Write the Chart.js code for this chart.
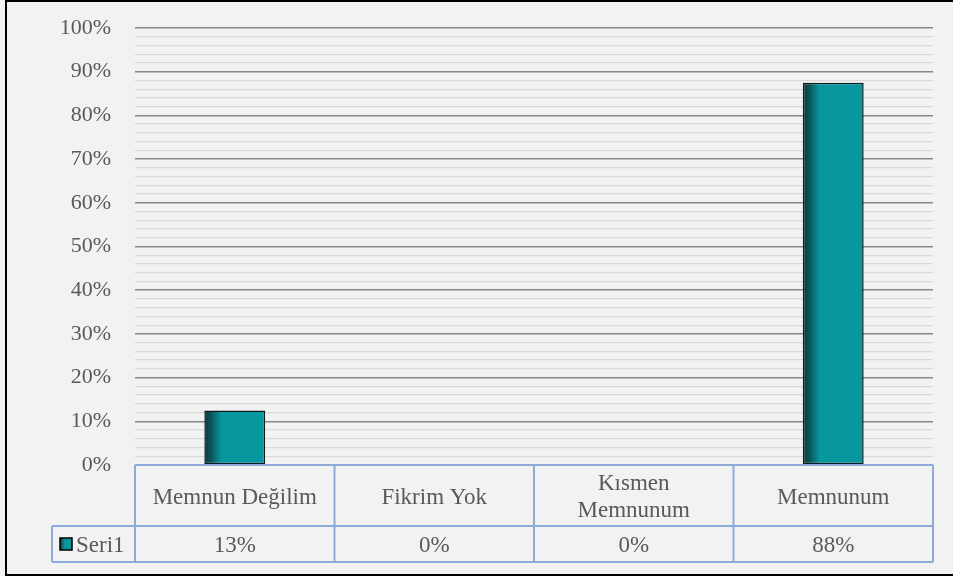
<!DOCTYPE html>
<html>
<head>
<meta charset="utf-8">
<script src="https://cdn.jsdelivr.net/npm/chart.js@4/dist/chart.umd.min.js"></script>
<style>
html,body{margin:0;padding:0;background:#f2f2f2;}
#wrap{position:absolute;left:0;top:0;width:953px;height:576px;}
</style>
</head>
<body>
<div id="wrap"><canvas id="c" width="953" height="576"></canvas></div>
<script>
const categories = ['Memnun Değilim', 'Fikrim Yok', ['Kısmen', 'Memnunum'], 'Memnunum'];
const values = [12.5, 0, 0, 87.5];
const seriesName = 'Seri1';
const yMin = 0, yMax = 100, yMinorStep = 2, yMajorStep = 10;

const FONT = '"Liberation Serif", "Times New Roman", serif';
const TEXT = '#595959';
const TEAL = '#08979f';
const DARK = '#0b3a3d';
const BLUE = '#8eaadb';

function barGradient(ctx) {
  const chart = ctx.chart;
  const xs = chart.scales && chart.scales.x;
  if (!xs || !chart.chartArea || ctx.dataIndex === undefined) return TEAL;
  const cx = xs.getPixelForValue(ctx.dataIndex);
  const w = (chart.chartArea.right - chart.chartArea.left) / categories.length * 0.305;
  const g = chart.ctx.createLinearGradient(cx - w / 2, 0, cx + w / 2, 0);
  g.addColorStop(0, DARK);
  g.addColorStop(0.1, '#0b5154');
  g.addColorStop(0.28, TEAL);
  g.addColorStop(1, TEAL);
  return g;
}

const frame = {
  id: 'frame',
  beforeDraw(chart) {
    const c = chart.ctx;
    c.save();
    c.fillStyle = '#f2f2f2';
    c.fillRect(0, 0, chart.width, chart.height);
    c.restore();
  },
  afterDraw(chart) {
    const c = chart.ctx;
    const a = chart.chartArea;
    const xs = chart.scales.x;
    const n = categories.length;
    const colW = (a.right - a.left) / n;
    const hTop = a.bottom, hBot = a.bottom + 61, rBot = a.bottom + 97;
    const legL = 52;
    c.save();
    c.strokeStyle = BLUE;
    c.lineWidth = 2;
    c.beginPath();
    c.moveTo(a.left, hTop); c.lineTo(a.right, hTop);
    c.moveTo(legL, hBot); c.lineTo(a.right, hBot);
    c.moveTo(legL, rBot); c.lineTo(a.right, rBot);
    for (let i = 0; i <= n; i++) {
      const x = a.left + i * colW;
      c.moveTo(x, hTop); c.lineTo(x, rBot);
    }
    c.moveTo(legL, hBot); c.lineTo(legL, rBot);
    c.stroke();

    c.fillStyle = TEXT;
    c.font = '23px ' + FONT;
    c.textAlign = 'center';
    c.textBaseline = 'middle';
    const hMid = (hTop + hBot) / 2;
    const rMid = (hBot + rBot) / 2;
    categories.forEach((lab, i) => {
      const cx = xs.getPixelForValue(i);
      const lines = Array.isArray(lab) ? lab : [lab];
      const lh = 27;
      lines.forEach((t, k) => {
        c.fillText(t, cx, hMid + 2 + (k - (lines.length - 1) / 2) * lh);
      });
      c.fillText(Math.round(values[i]) + '%', cx, rMid + 2);
    });
    // legend key
    const kx = 60, ky = rMid - 6;
    const g = c.createLinearGradient(kx, 0, kx + 12, 0);
    g.addColorStop(0, DARK); g.addColorStop(0.4, TEAL); g.addColorStop(1, TEAL);
    c.fillStyle = g;
    c.fillRect(kx, ky, 12, 12);
    c.strokeStyle = '#000';
    c.lineWidth = 1.5;
    c.strokeRect(kx, ky, 12, 12);
    c.fillStyle = TEXT;
    c.textAlign = 'left';
    c.fillText(seriesName, kx + 16, rMid + 2);

    // outer border
    c.strokeStyle = '#000';
    c.lineWidth = 2;
    c.strokeRect(6, 1, 960, 574);
    c.restore();
  }
};

new Chart(document.getElementById('c'), {
  type: 'bar',
  data: {
    labels: categories,
    datasets: [{
      label: seriesName,
      data: values,
      backgroundColor: barGradient,
      borderColor: '#0a1c1d',
      borderWidth: 1.5,
      borderSkipped: false,
      categoryPercentage: 1,
      barPercentage: 0.305
    }]
  },
  options: {
    responsive: false,
    animation: false,
    devicePixelRatio: 1,
    layout: { padding: { left: 0, right: 20, top: 28, bottom: 111 } },
    plugins: { legend: { display: false }, tooltip: { enabled: false } },
    scales: {
      x: { display: false },
      y: {
        min: yMin, max: yMax,
        afterFit(axis) { axis.width = 135; axis.paddingTop = 0; axis.paddingBottom = 0; },
        border: { display: false },
        grid: {
          drawTicks: false,
          color: (ctx) => (ctx.tick && ctx.tick.value % yMajorStep === 0) ? '#878787' : '#d9d9d9',
          lineWidth: (ctx) => (ctx.tick && ctx.tick.value % yMajorStep === 0) ? 1.5 : 1.3
        },
        ticks: {
          stepSize: yMinorStep,
          autoSkip: false,
          padding: 24,
          color: TEXT,
          font: { family: FONT, size: 22 },
          callback: (v) => (v % yMajorStep === 0 ? v + '%' : '')
        }
      }
    }
  },
  plugins: [frame]
});
</script>
</body>
</html>
